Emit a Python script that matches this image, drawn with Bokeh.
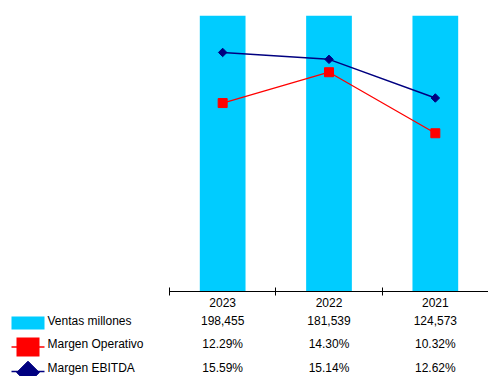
import numpy as np
from bokeh.plotting import figure
from bokeh.models import Range1d, FixedTicker
from bokeh.layouts import column
from bokeh.core.properties import value
from bokeh.embed import file_html
from bokeh.resources import INLINE

# ---- data ----
years = ["2023", "2022", "2021"]
ventas = [198455, 181539, 124573]
margen_operativo = [12.29, 14.30, 10.32]
margen_ebitda = [15.59, 15.14, 12.62]
series_names = ["Ventas millones", "Margen Operativo", "Margen EBITDA"]

# ---- style ----
FONT = "Liberation Sans"
FS = "12px"
CYAN = "#00CCFF"
RED = "#FF0000"
NAVY = "#000080"

n = len(years)
xc = np.arange(n) + 0.5
bounds = np.arange(n + 1)

W = 488
LEFT = 169                   # px where the category axis begins
SCALE = (W - LEFT) / n       # px per category
X_START = -LEFT / SCALE
TOP_BORDER = 15
FRAME_H = 276
TOP_H = 311
BOT_H = 65

# ---------------- chart ----------------
p = figure(width=W, height=TOP_H, x_range=Range1d(X_START, n), y_range=Range1d(0, 18),
           output_backend="svg", toolbar_location=None, y_axis_location=None,
           min_border_left=0, min_border_right=0, min_border_top=TOP_BORDER,
           min_border_bottom=TOP_H - TOP_BORDER - FRAME_H)
p.extra_y_ranges = {"ventas": Range1d(0, 120000)}
p.vbar(x=xc, top=ventas, bottom=0, width=0.43, y_range_name="ventas",
       fill_color=CYAN, line_color=None)
p.line(xc, margen_operativo, color=RED, line_width=1.3)
p.scatter(xc, margen_operativo, marker="square", size=9, fill_color=RED, line_color=RED)
p.line(xc, margen_ebitda, color=NAVY, line_width=1.5)
p.scatter(xc, margen_ebitda, marker="square", angle=np.pi / 4, size=6,
          fill_color=NAVY, line_color=NAVY)

ax = p.xaxis[0]
ax.bounds = (0, n)
ax.ticker = FixedTicker(ticks=[float(v) for v in xc], minor_ticks=[float(v) for v in bounds])
ax.major_label_overrides = {float(x): y for x, y in zip(xc, years)}
ax.major_tick_in = 0
ax.major_tick_out = 0
ax.minor_tick_in = 4
ax.minor_tick_out = 4
ax.minor_tick_line_color = "black"
ax.axis_line_color = "black"
ax.major_label_standoff = 2
ax.major_label_text_font = FONT
ax.major_label_text_font_size = FS
ax.major_label_text_color = "black"
p.xgrid.visible = False
p.ygrid.visible = False
p.outline_line_color = None

# ---------------- data table ----------------
ROW0 = 9
ROW_H = 23.5
rows = np.arange(3)
y_top = -ROW0 / ROW_H
y_bot = (BOT_H - ROW0) / ROW_H
q = figure(width=W, height=BOT_H, x_range=Range1d(X_START, n),
           y_range=Range1d(y_bot, y_top), output_backend="svg", toolbar_location=None,
           x_axis_location=None, y_axis_location=None,
           min_border_left=0, min_border_right=0, min_border_top=0, min_border_bottom=0)
q.grid.visible = False
q.outline_line_color = None

def px_to_x(px):
    return (px - LEFT) / SCALE

def off(dpx):
    return dpx / ROW_H

table = [
    [f"{v:,}" for v in ventas],
    [f"{v:.2f}%" for v in margen_operativo],
    [f"{v:.2f}%" for v in margen_ebitda],
]
for i, vals in enumerate(table):
    q.text(x=xc, y=[rows[i]] * n, text=vals, text_align="center", text_baseline="middle",
           text_font=value(FONT), text_font_size=FS, text_color="black")

q.text(x=[px_to_x(47)] * 3, y=rows, text=series_names, text_align="left",
       text_baseline="middle", text_font=value(FONT), text_font_size=FS, text_color="black")

kx = px_to_x(27.5)
kx0 = px_to_x(11)
kx1 = px_to_x(44)
# Ventas key
q.rect(x=[kx], y=[rows[0] + off(2.5)], width=33, height=13, width_units="screen",
       height_units="screen", fill_color=CYAN, line_color=None)
# Margen Operativo key
q.segment(x0=[kx0], y0=[rows[1] + off(3)], x1=[kx1], y1=[rows[1] + off(3)],
          line_color=RED, line_width=1.5)
q.rect(x=[kx], y=[rows[1] + off(3)], width=23, height=19, width_units="screen",
       height_units="screen", fill_color=RED, line_color=None)
# Margen EBITDA key
q.segment(x0=[kx0], y0=[rows[2] + off(4)], x1=[kx1], y1=[rows[2] + off(4)],
          line_color=NAVY, line_width=1.5)
q.scatter(x=[kx], y=[rows[2] + off(5)], marker="square", angle=np.pi / 4, size=16,
          fill_color=NAVY, line_color=NAVY)

layout = column(p, q, spacing=0)
open("out.html", "w").write(file_html(layout, INLINE))
